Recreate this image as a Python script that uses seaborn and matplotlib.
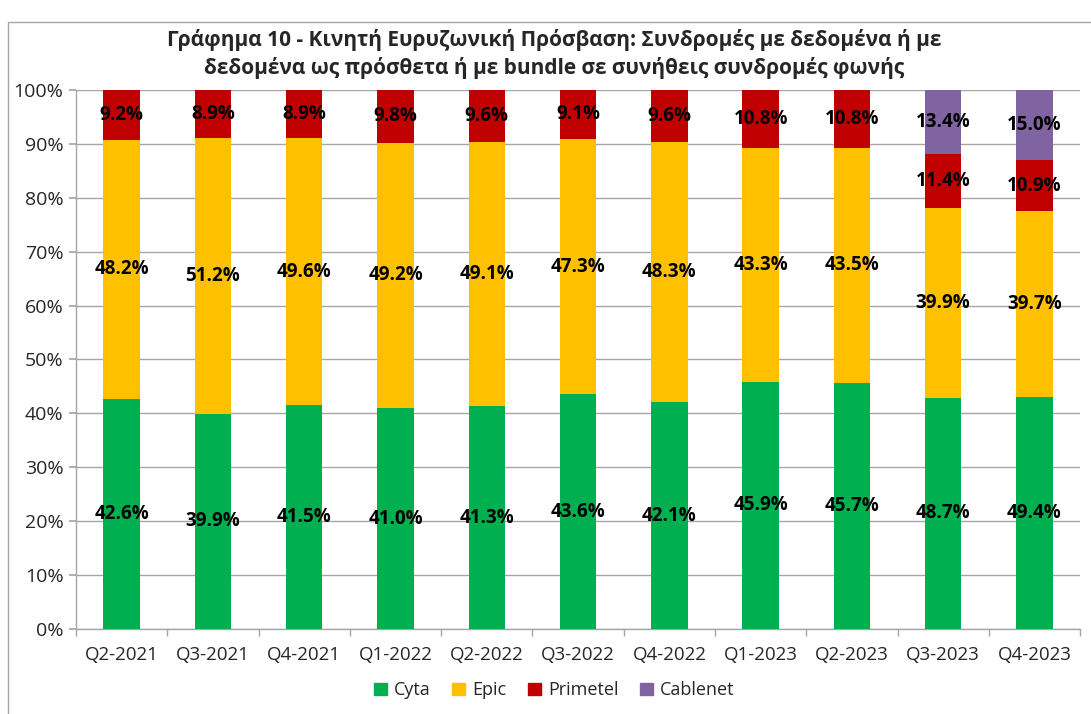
"""Stacked share chart: mobile broadband subscriptions by provider."""

import matplotlib.pyplot as plt
import matplotlib.patches as mpatches
import numpy as np
import pandas as pd
import seaborn as sns

quarters = ["Q2-2021", "Q3-2021", "Q4-2021", "Q1-2022", "Q2-2022", "Q3-2022",
            "Q4-2022", "Q1-2023", "Q2-2023", "Q3-2023", "Q4-2023"]
cyta = [42.6, 39.9, 41.5, 41.0, 41.3, 43.6, 42.1, 45.9, 45.7, 48.7, 49.4]
epic = [48.2, 51.2, 49.6, 49.2, 49.1, 47.3, 48.3, 43.3, 43.5, 39.9, 39.7]
primetel = [9.2, 8.9, 8.9, 9.8, 9.6, 9.1, 9.6, 10.8, 10.8, 11.4, 10.9]
cablenet = [0, 0, 0, 0, 0, 0, 0, 0, 0, 13.4, 15.0]

providers = ["Cyta", "Epic", "Primetel", "Cablenet"]
colors = {"Cyta": "#00B050", "Epic": "#FFC000", "Primetel": "#C00000", "Cablenet": "#8064A2"}

sns.set_theme(style="white")
plt.rcParams["font.family"] = ["Open Sans", "DejaVu Sans"]

df = pd.DataFrame({"Cyta": cyta, "Epic": epic, "Primetel": primetel, "Cablenet": cablenet},
                  index=quarters)
# Bars are normalised to 100%, labels show the raw values
share = df.div(df.sum(axis=1), axis=0) * 100
cum = share.cumsum(axis=1)

fig = plt.figure(figsize=(10.91, 7.14), dpi=100)
ax = fig.add_axes([0.0697, 0.119, 0.9203, 0.755])

# Draw cumulative totals from top layer down so they stack visually
for prov in reversed(providers):
    sns.barplot(x=quarters, y=cum[prov].values, color=colors[prov], width=0.4,
                saturation=1, linewidth=0, ax=ax, zorder=3)

for i, q in enumerate(quarters):
    for prov in providers:
        val = df.loc[q, prov]
        if val <= 0:
            continue
        mid = cum.loc[q, prov] - share.loc[q, prov] / 2
        ax.text(i, mid, f"{val:.1f}%", ha="center", va="center",
                fontsize=13.5, fontweight="bold", color="black", zorder=5)

ax.set_ylim(0, 100)
ax.set_xlim(-0.5, len(quarters) - 0.5)
ax.set_yticks(np.arange(0, 101, 10))
ax.set_yticklabels([f"{t}%" for t in range(0, 101, 10)], fontsize=14)
ax.set_xticks(range(len(quarters)))
ax.set_xticklabels(quarters, fontsize=13.5)
ax.tick_params(axis="x", length=0, pad=12)
ax.tick_params(axis="y", length=5, color="#a6a6a6", pad=4, left=True)
# category boundary ticks on the x axis
ax.set_xticks(np.arange(-0.5, len(quarters), 1), minor=True)
ax.tick_params(axis="x", which="minor", length=5, color="#a6a6a6", bottom=True, direction="out")
ax.grid(axis="y", color="#a6a6a6", linewidth=1, zorder=0)
ax.set_axisbelow(True)
for side in ["top", "right"]:
    ax.spines[side].set_visible(False)
for side in ["left", "bottom"]:
    ax.spines[side].set_color("#a6a6a6")
    ax.spines[side].set_linewidth(1)
ax.set_xlabel("")
ax.set_ylabel("")

fig.suptitle("Γράφημα 10 - Κινητή Ευρυζωνική Πρόσβαση: Συνδρομές με δεδομένα ή με\n"
             "δεδομένα ως πρόσθετα ή με bundle σε συνήθεις συνδρομές φωνής",
             x=0.508, y=0.96, fontsize=15, fontweight="bold", linespacing=1.35)

handles = [mpatches.Patch(color=colors[p], label=p) for p in providers]
fig.legend(handles=handles, loc="center", bbox_to_anchor=(0.508, 0.033), ncol=4,
           frameon=False, fontsize=13, handlelength=0.7, handleheight=0.7,
           handletextpad=0.4, columnspacing=1.2)

# outer chart frame
fig.add_artist(mpatches.Rectangle((8 / 1091, -0.05), 1.1, 1 - 22 / 714 + 0.05,
                                  transform=fig.transFigure, fill=False,
                                  edgecolor="#a6a6a6", linewidth=1))

fig.savefig("out.png", dpi=100)
plt.close(fig)
